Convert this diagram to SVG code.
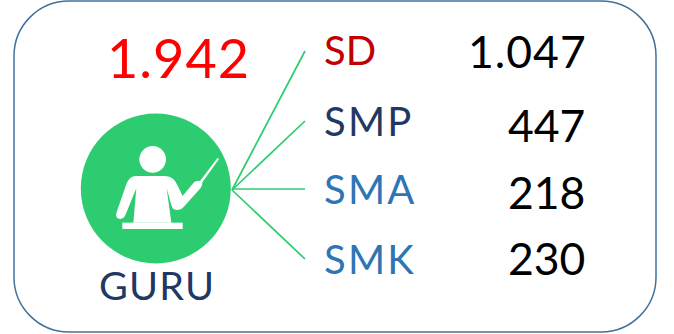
<svg xmlns="http://www.w3.org/2000/svg" width="674" height="334" viewBox="0 0 674 334">
<style>
text{font-family:"Lato","Carlito","Open Sans",sans-serif}
.lab{font-size:40px;letter-spacing:2.200px}
.num{font-size:44.500px;fill:#000;text-anchor:start}
.c{stroke:#2ecc71;stroke-width:1.7;fill:none}
</style>
<rect x="0" y="0" width="674" height="334" fill="#fff"/>
<rect id="frame" x="14" y="1" width="642" height="331" rx="55" ry="55" fill="#fff" stroke="#41719c" stroke-width="1.5"/>
<g id="connectors">
<line class="c" x1="232" y1="190" x2="305" y2="51"/>
<line class="c" x1="232" y1="190" x2="305" y2="121"/>
<line class="c" x1="232" y1="189" x2="305" y2="189"/>
<line class="c" x1="232" y1="190" x2="305" y2="259"/>
</g>
<g id="guru">
<circle cx="155.8" cy="188.5" r="75" fill="#2ecc71"/>
<g transform="translate(70 120) scale(.33333)" fill="#fff">
<circle cx="248" cy="118" r="40"/>
<path d="M195 168H285Q312 170 322 195L338 228L372 187Q380 180 390 183L443 113L447 117L397 187Q398 197 392 204L338 264Q326 274 312 268Q306 264 304 255L290 205L304 308H190L199 205L165 288Q155 303 142 294Q136 288 140 276L170 190Q178 170 195 168Z"/>
<rect x="157" y="308" width="181" height="19"/>
</g>
<text x="99" y="300" font-size="39.500" letter-spacing="1.200" fill="#1f3864">GURU</text>
</g>
<g id="total"><text x="107" y="78" font-size="54" letter-spacing="1" fill="#ff0000">1.942</text></g>
<g id="sd"><text class="lab" x="324" y="65" fill="#c00000" style="letter-spacing:0">SD</text><text class="num" x="468" y="68" letter-spacing="1">1.047</text></g>
<g id="smp"><text class="lab" x="324" y="136" fill="#1f3864">SMP</text><text class="num" x="508" y="142">447</text></g>
<g id="sma"><text class="lab" x="324" y="204" fill="#2e75b6">SMA</text><text class="num" x="508" y="209">218</text></g>
<g id="smk"><text class="lab" x="324" y="274" fill="#2e75b6">SMK</text><text class="num" x="508" y="275">230</text></g>
</svg>
